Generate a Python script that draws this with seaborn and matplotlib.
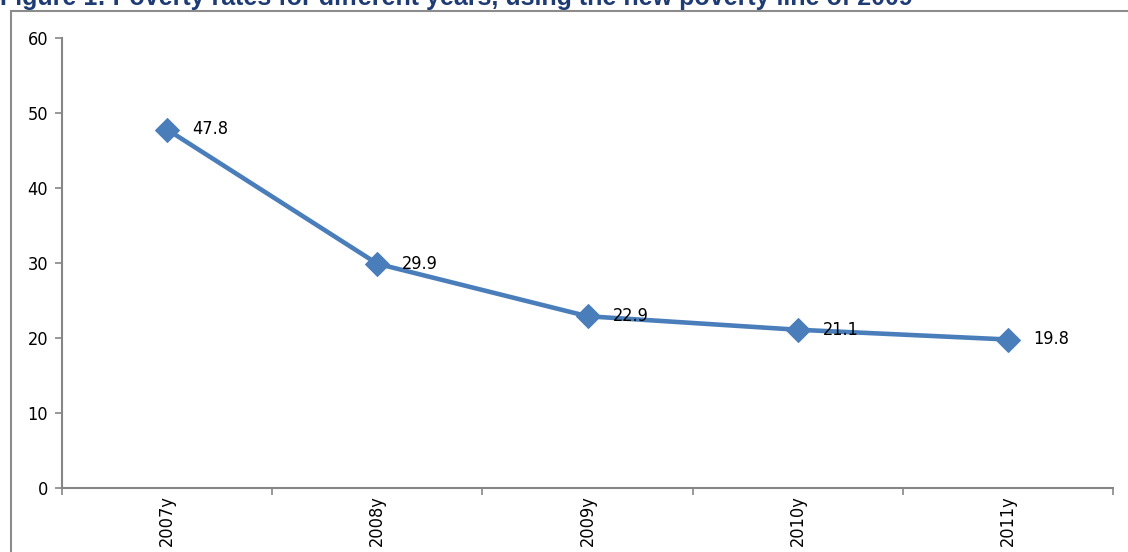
import numpy as np
import pandas as pd
import matplotlib
matplotlib.use("Agg")
import matplotlib.pyplot as plt
import seaborn as sns
from matplotlib.patches import Rectangle

years = ["2007y", "2008y", "2009y", "2010y", "2011y"]
rates = [47.8, 29.9, 22.9, 21.1, 19.8]
title = "Figure 1: Poverty rates for different years, using the new poverty line of 2009"

sns.set_theme(style="white")
plt.rcParams['font.family'] = ['DejaVu Sans']
plt.rcParams['font.stretch'] = 'condensed'

df = pd.DataFrame({"pos": np.arange(len(years)), "rate": rates})

fig = plt.figure(figsize=(11.28, 5.52), dpi=100)
ax = fig.add_axes([62/1128, 1-488/552, (1113-62)/1128, (488-38)/552])

blue = "#4A7EBB"
sns.lineplot(data=df, x="pos", y="rate", ax=ax, color=blue, linewidth=3.3,
             marker="D", markersize=12, markeredgecolor=blue, markerfacecolor=blue)

for x, y in zip(df["pos"], df["rate"]):
    ax.annotate(f"{y}", (x, y), xytext=(18, 0), textcoords="offset points",
                va="center", ha="left", fontsize=13, color="black",
                fontstretch="condensed")

ax.set_xlim(-0.5, len(years) - 0.5)
ax.set_ylim(0, 60)
ax.set_yticks(range(0, 61, 10))
ax.set_xticks(np.arange(len(years)))
ax.set_xticklabels(years, rotation=90, fontsize=13, color="black", fontstretch="condensed")
ax.set_xticks(np.arange(-0.5, len(years)), minor=True)
ax.tick_params(axis="x", which="major", bottom=True, length=0, pad=5)
ax.tick_params(axis="x", which="minor", bottom=True, length=5, width=1.2, color="#868686", direction="out")
ax.tick_params(axis="y", left=True, length=5, width=1.2, color="#868686", direction="out",
               labelsize=13, labelcolor="black", pad=5)
for lab in ax.get_yticklabels():
    lab.set_fontstretch("condensed")
ax.set_xlabel("")
ax.set_ylabel("")
for s in ["top", "right"]:
    ax.spines[s].set_visible(False)
for s in ["left", "bottom"]:
    ax.spines[s].set_color("#868686")
    ax.spines[s].set_linewidth(1.5)

# outer frame
fig.patches.append(Rectangle((11/1128, -0.1), 1.2, 1 - 11/552 + 0.1, transform=fig.transFigure,
                             fill=False, edgecolor="#8C8C8C", linewidth=1.5))

fig.text(0.0, 1 - 5/552, title, fontsize=18, fontweight="bold", color="#1F3B73",
         family=["Liberation Sans", "DejaVu Sans"], fontstretch="normal",
         ha="left", va="baseline")

fig.savefig("out.png", dpi=100)
